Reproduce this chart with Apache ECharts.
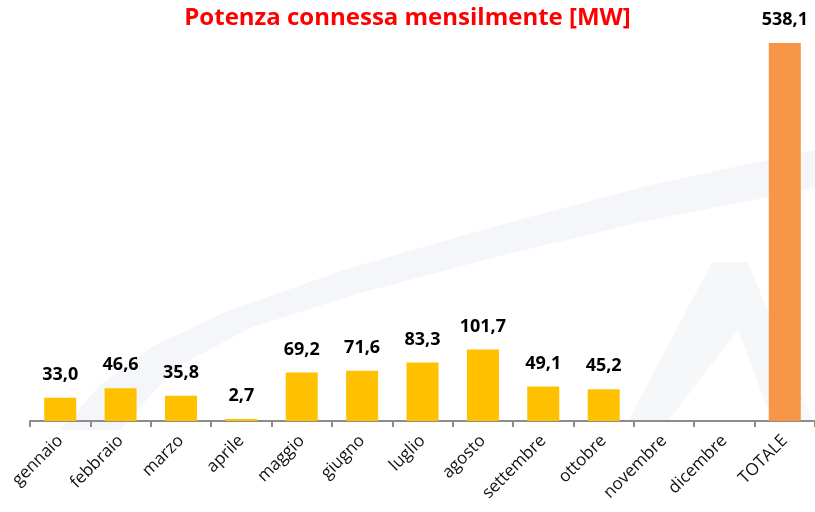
<!DOCTYPE html>
<html>
<head>
<meta charset="utf-8">
<script src="https://cdn.jsdelivr.net/npm/echarts@6/dist/echarts.min.js"></script>
<style>
  html, body { margin: 0; padding: 0; background: #fff; }
  #chart { width: 815px; height: 512px; }
</style>
</head>
<body>
<div id="chart"></div>
<script>
const months = ['gennaio', 'febbraio', 'marzo', 'aprile', 'maggio', 'giugno', 'luglio',
  'agosto', 'settembre', 'ottobre', 'novembre', 'dicembre', 'TOTALE'];
const potenza = [33.0, 46.6, 35.8, 2.7, 69.2, 71.6, 83.3, 101.7, 49.1, 45.2, null, null, 538.1];

const chart = echarts.init(document.getElementById('chart'));

chart.setOption({
  animation: false,
  // faint logo watermark behind the bars
  graphic: [
    {
      type: 'polygon',
      z: -10,
      shape: {
        points: [[60, 430], [100, 385], [155, 345], [230, 310], [350, 268], [500, 225], [650, 185], [815, 150],
          [815, 188], [650, 220], [500, 256], [360, 293], [250, 328], [175, 368], [120, 430]]
      },
      style: {fill: '#f4f6f9'}
    },
    {
      type: 'polygon',
      z: -10,
      shape: {
        points: [[628, 421], [712, 262], [748, 262], [812, 421], [772, 421], [738, 330], [668, 421]]
      },
      style: {fill: '#f5f7f9'}
    }
  ],
  title: {
    text: 'Potenza connessa mensilmente [MW]',
    left: 'center',
    top: 1,
    textStyle: {
      color: '#ff0000',
      fontSize: 24,
      fontWeight: 'bold',
      fontFamily: 'Open Sans'
    }
  },
  grid: {left: 30, right: 0, top: 43, bottom: 91},
  xAxis: {
    type: 'category',
    data: months,
    axisLine: {lineStyle: {color: '#8c8c8c', width: 2}},
    axisTick: {show: true, length: 6, lineStyle: {color: '#8c8c8c', width: 2}},
    axisLabel: {
      rotate: 45,
      interval: 0,
      margin: 17,
      color: '#111',
      fontSize: 17,
      fontFamily: 'Open Sans'
    }
  },
  yAxis: {
    type: 'value',
    min: 0,
    max: 538.1,
    show: false
  },
  series: [{
    type: 'bar',
    data: potenza,
    barWidth: 32,
    itemStyle: {
      color: p => p.dataIndex === months.length - 1 ? '#f79646' : '#ffc000'
    },
    label: {
      show: true,
      position: 'top',
      distance: 14,
      color: '#000',
      fontSize: 18,
      fontWeight: 'bold',
      fontFamily: 'Open Sans',
      formatter: p => p.value == null ? '' : p.value.toFixed(1).replace('.', ',')
    }
  }]
});
</script>
</body>
</html>
